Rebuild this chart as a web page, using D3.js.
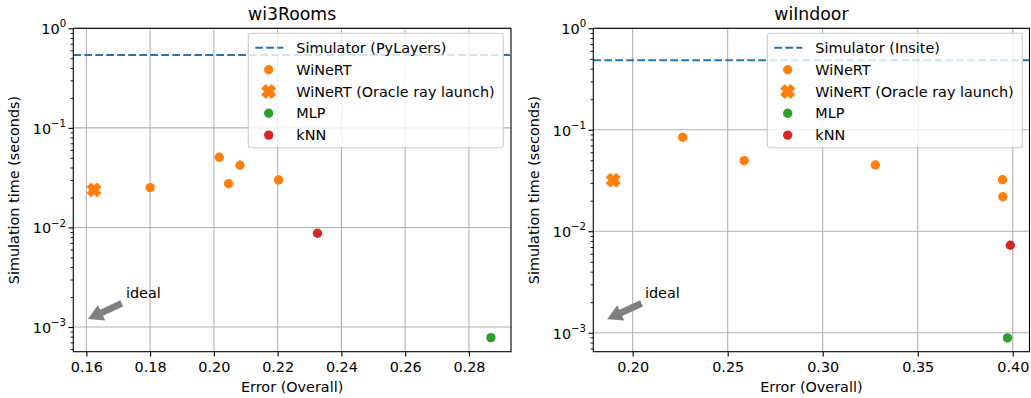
<!DOCTYPE html>
<html>
<head>
<meta charset="utf-8">
<script src="https://cdn.jsdelivr.net/npm/d3@7"></script>
<style>
  body { margin: 0; background: #fff; }
  svg text { font-family: "DejaVu Sans", sans-serif; fill: #000; }
</style>
</head>
<body>
<div id="chart"></div>
<script>
// ---- data ----
var titles = ["wi3Rooms", "wiIndoor"];
var simulatorLabels = ["Simulator (PyLayers)", "Simulator (Insite)"];
var simulatorTime = [0.539, 0.484];

var winertErr = [[0.1800, 0.2017, 0.2046, 0.2082, 0.2203], [0.2263, 0.2587, 0.3277, 0.3946, 0.3948]];
var winertTime = [[0.0251, 0.0507, 0.0275, 0.0421, 0.0300], [0.0844, 0.0496, 0.0450, 0.0322, 0.0219]];
var oracleErr = [0.1624, 0.1898];
var oracleTime = [0.0238, 0.0318];
var mlpErr = [0.2869, 0.3972];
var mlpTime = [0.000783, 0.000889];
var knnErr = [0.2325, 0.3987];
var knnTime = [0.00874, 0.00728];

var xTicks = [[0.16, 0.18, 0.20, 0.22, 0.24, 0.26, 0.28], [0.20, 0.25, 0.30, 0.35, 0.40]];
var yTicks = [1, 0.1, 0.01, 0.001];
var yTickExp = ["0", "\u22121", "\u22122", "\u22123"];
var xDomains = [[0.1559, 0.2932], [0.1793, 0.4088]];
var yDomains = [[Math.pow(10, -3.248), 1], [Math.pow(10, -3.187), 1]];

// "ideal" annotation: arrow head, arrow tail, text position
var idealHead = [[0.1605, 0.00120], [0.1866, 0.00136]];
var idealTail = [[0.1711, 0.00173], [0.2047, 0.00195]];
var idealText = [[0.1724, 0.00195], [0.2065, 0.00220]];

var legendNames = ["WiNeRT", "WiNeRT (Oracle ray launch)", "MLP", "kNN"];

// ---- layout ----
var W = 1031, H = 398;
var blue = "#1f77b4", orange = "#ff7f0e", green = "#2ca02c", red = "#d62728";
var axLeft = [73.3, 593.3], axRight = [511, 1029.5];
var axTop = 28.3, axBottom = 351.7;
var fs = 14.4;

var svg = d3.select("#chart").append("svg")
    .attr("width", W)
    .attr("height", H);

function xMarker(size) {
    // filled X: plus rotated by 45 degrees
    var a = size, b = size * 0.44;
    var pts = [[-b, -a], [b, -a], [b, -b], [a, -b], [a, b], [b, b], [b, a], [-b, a], [-b, b], [-a, b], [-a, -b], [-b, -b]];
    var c = Math.SQRT1_2;
    return "M" + pts.map(function (p) { return [(p[0] - p[1]) * c, (p[0] + p[1]) * c].join(","); }).join("L") + "Z";
}

for (var k = 0; k < 2; k++) {
    var x = d3.scaleLinear().domain(xDomains[k]).range([axLeft[k], axRight[k]]);
    var y = d3.scaleLog().domain(yDomains[k]).range([axBottom, axTop]);
    var g = svg.append("g");
    var cx = (axLeft[k] + axRight[k]) / 2;

    // grid
    g.append("g").selectAll("line").data(xTicks[k]).enter().append("line")
        .attr("x1", function (d) { return x(d); }).attr("x2", function (d) { return x(d); })
        .attr("y1", axTop).attr("y2", axBottom)
        .attr("stroke", "#b0b0b0").attr("stroke-width", 1.1);
    g.append("g").selectAll("line").data(yTicks).enter().append("line")
        .attr("x1", axLeft[k]).attr("x2", axRight[k])
        .attr("y1", function (d) { return y(d); }).attr("y2", function (d) { return y(d); })
        .attr("stroke", "#b0b0b0").attr("stroke-width", 1.1);

    // simulator line
    g.append("line")
        .attr("x1", axLeft[k]).attr("x2", axRight[k])
        .attr("y1", y(simulatorTime[k])).attr("y2", y(simulatorTime[k]))
        .attr("stroke", blue).attr("stroke-width", 2.1)
        .attr("stroke-dasharray", "7.7,3.3");

    // points
    g.append("g").selectAll("circle").data(d3.zip(winertErr[k], winertTime[k])).enter().append("circle")
        .attr("cx", function (d) { return x(d[0]); })
        .attr("cy", function (d) { return y(d[1]); })
        .attr("r", 4.7).attr("fill", orange);
    g.append("path").attr("d", xMarker(7.4))
        .attr("transform", "translate(" + x(oracleErr[k]) + "," + y(oracleTime[k]) + ")")
        .attr("fill", orange);
    g.append("circle").attr("cx", x(mlpErr[k])).attr("cy", y(mlpTime[k])).attr("r", 4.7).attr("fill", green);
    g.append("circle").attr("cx", x(knnErr[k])).attr("cy", y(knnTime[k])).attr("r", 4.7).attr("fill", red);

    // ideal arrow
    var hx = x(idealHead[k][0]), hy = y(idealHead[k][1]);
    var tx = x(idealTail[k][0]), ty = y(idealTail[k][1]);
    var len = Math.hypot(hx - tx, hy - ty);
    var ux = (hx - tx) / len, uy = (hy - ty) / len, nx = -uy, ny = ux;
    var hl = 15, hw = 8.5, bw = 3.4;
    var bx = hx - ux * hl, by = hy - uy * hl;
    var arrow = [[tx + nx * bw, ty + ny * bw], [bx + nx * bw, by + ny * bw], [bx + nx * hw, by + ny * hw], [hx, hy],
        [bx - nx * hw, by - ny * hw], [bx - nx * bw, by - ny * bw], [tx - nx * bw, ty - ny * bw]];
    g.append("path").attr("d", "M" + arrow.map(function (p) { return p.join(","); }).join("L") + "Z")
        .attr("fill", "#808080");
    g.append("text").attr("x", x(idealText[k][0])).attr("y", y(idealText[k][1]))
        .attr("font-size", fs).text("ideal");

    // legend
    var lx = axLeft[k] + (k === 0 ? 175 : 174), ly = 33.3;
    var lg = g.append("g").attr("transform", "translate(" + lx + "," + ly + ")");
    lg.append("rect").attr("x", 0).attr("y", 0).attr("width", 255).attr("height", 114.4)
        .attr("rx", 2.8).attr("fill", "#fff").attr("fill-opacity", 0.8)
        .attr("stroke", "#cccccc").attr("stroke-width", 1.1);
    var rowY = [14.4, 36.4, 58.2, 80.0, 101.8];
    lg.append("line").attr("x1", 7).attr("x2", 35).attr("y1", rowY[0]).attr("y2", rowY[0])
        .attr("stroke", blue).attr("stroke-width", 2.1).attr("stroke-dasharray", "7.7,3.3");
    lg.append("circle").attr("cx", 20.4).attr("cy", rowY[1]).attr("r", 4.7).attr("fill", orange);
    lg.append("path").attr("d", xMarker(7.4)).attr("transform", "translate(20.4," + rowY[2] + ")").attr("fill", orange);
    lg.append("circle").attr("cx", 20.4).attr("cy", rowY[3]).attr("r", 4.7).attr("fill", green);
    lg.append("circle").attr("cx", 20.4).attr("cy", rowY[4]).attr("r", 4.7).attr("fill", red);
    var names = [simulatorLabels[k]].concat(legendNames);
    lg.selectAll("text.lbl").data(names).enter().append("text")
        .attr("class", "lbl")
        .attr("x", 48).attr("y", function (d, i) { return rowY[i] + 5.2; })
        .attr("font-size", fs).text(function (d) { return d; });

    // axes
    var xAxis = d3.axisBottom(x).tickValues(xTicks[k]).tickFormat(d3.format(".2f"))
        .tickSizeInner(4.9).tickSizeOuter(0).tickPadding(4.9);
    var xg = g.append("g").attr("transform", "translate(0," + axBottom + ")").call(xAxis);
    xg.select(".domain").remove();
    xg.selectAll(".tick line").attr("stroke", "#000").attr("stroke-width", 1.1);
    xg.selectAll(".tick text").attr("font-size", fs).attr("font-family", "DejaVu Sans").attr("fill", "#000");

    var minors = [];
    yTicks.forEach(function (t) { for (var m = 2; m <= 9; m++) { var v = t * m / 10; if (v >= yDomains[k][0] && v <= 1) minors.push(v); } });
    var ymAxis = d3.axisLeft(y).tickValues(minors).tickFormat("").tickSizeInner(2.8).tickSizeOuter(0);
    var ymg = g.append("g").attr("transform", "translate(" + axLeft[k] + ",0)").call(ymAxis);
    ymg.select(".domain").remove();
    ymg.selectAll(".tick line").attr("stroke", "#000").attr("stroke-width", 0.9);

    var yAxis = d3.axisLeft(y).tickValues(yTicks).tickFormat("").tickSizeInner(4.9).tickSizeOuter(0);
    var yg = g.append("g").attr("transform", "translate(" + axLeft[k] + ",0)").call(yAxis);
    yg.select(".domain").remove();
    yg.selectAll(".tick line").attr("stroke", "#000").attr("stroke-width", 1.1);
    yg.selectAll(".tick").append("text")
        .attr("x", -7.2).attr("y", 5.4).attr("text-anchor", "end")
        .attr("font-size", fs).attr("font-family", "DejaVu Sans").attr("fill", "#000")
        .each(function (d, i) {
            var t = d3.select(this);
            t.append("tspan").text("10");
            t.append("tspan").attr("dy", -6.8).attr("font-size", 10.2).text(yTickExp[i]);
        });

    // spines
    g.append("rect").attr("x", axLeft[k]).attr("y", axTop)
        .attr("width", axRight[k] - axLeft[k]).attr("height", axBottom - axTop)
        .attr("fill", "none").attr("stroke", "#000").attr("stroke-width", 1.1);

    // titles and labels
    g.append("text").attr("x", cx).attr("y", 19.5).attr("text-anchor", "middle")
        .attr("font-size", 17.3).text(titles[k]);
    g.append("text").attr("x", cx).attr("y", 392).attr("text-anchor", "middle")
        .attr("font-size", fs).text("Error (Overall)");
    g.append("text").attr("transform", "translate(" + (axLeft[k] - 54.3) + "," + ((axTop + axBottom) / 2) + ") rotate(-90)")
        .attr("text-anchor", "middle").attr("font-size", fs).text("Simulation time (seconds)");
}
</script>
</body>
</html>
